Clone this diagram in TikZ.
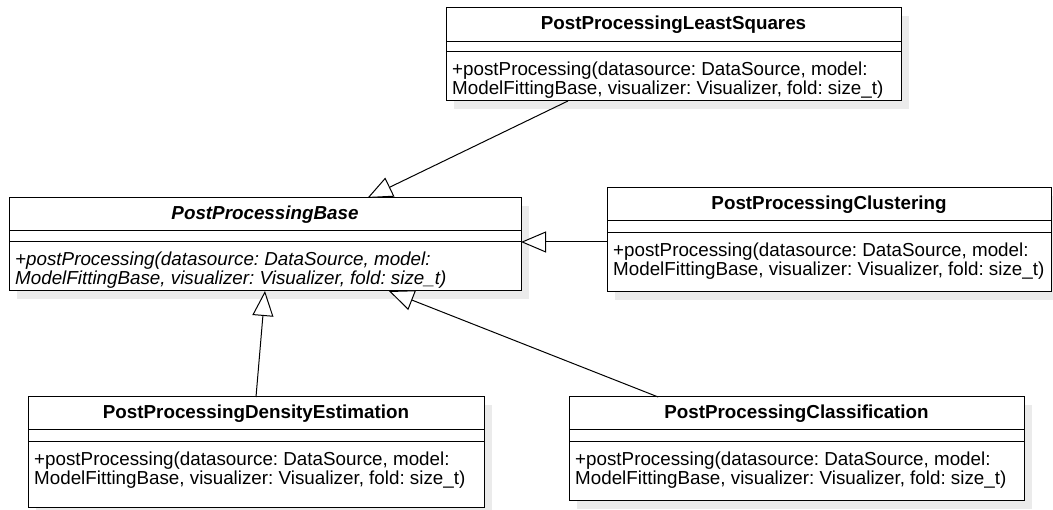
\documentclass[tikz,border=0pt]{standalone}
\usepackage{fontspec}
\setmainfont{Liberation Sans}
\usetikzlibrary{positioning, arrows.meta, calc, shadows}

\frenchspacing
\newcommand{\methodsig}{+postProcessing(datasource: DataSource, model:\\ModelFittingBase, visualizer: Visualizer, fold: size\_t)}

\begin{document}
\begin{tikzpicture}[
    x=1pt, y=-1pt,
    font=\fontsize{18.8}{16}\selectfont,
    box/.style={rectangle, draw, line width=1pt, fill=white, outer sep=0pt, inner sep=0pt,
        drop shadow={shadow xshift=8pt, shadow yshift=-8pt, fill=black!8, opacity=1}},
    head/.style={box, anchor=north west, minimum height=33pt, font=\fontsize{18.8}{16}\selectfont\bfseries},
    attr/.style={box, minimum height=11pt},
    ops/.style={box},
    sig/.style={anchor=north west, align=left, inner xsep=6pt, inner ysep=10pt},
    inherit/.style={-{Triangle[length=25pt, width=21pt, fill=white]}, line width=1pt}
]
\useasboundingbox (0,0) rectangle (1053,510);

% Least squares
\node[head, minimum width=455pt, minimum height=34pt] (ls) at (446,8) {PostProcessingLeastSquares};
\node[attr, minimum width=455pt, minimum height=10pt, below=0pt of ls] (lsa) {};
\node[ops, minimum width=455pt, minimum height=49pt, below=0pt of lsa] (lso) {};
\node[sig] (lst) at (lso.north west) {\methodsig};

% Abstract base class
\node[head, minimum width=512pt, font=\fontsize{18.8}{16}\selectfont\bfseries\itshape] (base) at (9,198) {PostProcessingBase};
\node[attr, minimum width=512pt, below=0pt of base] (basea) {};
\node[ops, minimum width=512pt, minimum height=49pt, below=0pt of basea] (baseo) {};
\node[sig, font=\fontsize{18.8}{16}\selectfont\itshape] (baset) at (baseo.north west) {\methodsig};

% Clustering
\node[head, minimum width=444pt] (clu) at (607,188) {PostProcessingClustering};
\node[attr, minimum width=444pt, minimum height=12pt, below=0pt of clu] (clua) {};
\node[ops, minimum width=444pt, minimum height=59pt, below=0pt of clua] (cluo) {};
\node[sig] (clut) at (cluo.north west) {\methodsig};

% Density estimation
\node[head, minimum width=456pt] (den) at (28,397) {PostProcessingDensityEstimation};
\node[attr, minimum width=456pt, minimum height=12pt, below=0pt of den] (dena) {};
\node[ops, minimum width=456pt, minimum height=66pt, below=0pt of dena] (deno) {};
\node[sig] (dent) at (deno.north west) {\methodsig};

% Classification
\node[head, minimum width=455pt] (cla) at (569,397) {PostProcessingClassification};
\node[attr, minimum width=455pt, minimum height=12pt, below=0pt of cla] (claa) {};
\node[ops, minimum width=455pt, minimum height=59pt, below=0pt of claa] (clao) {};
\node[sig] (clat) at (clao.north west) {\methodsig};

% Generalisation arrows
\draw[inherit] ($(lso.south west)!0.268!(lso.south east)$) -- ($(base.north west)!0.70!(base.north east)$);
\draw[inherit] (cluo.west |- baseo.north) -- (baseo.north east);
\draw[inherit] (den.north) -- (baseo.south);
\draw[inherit] ($(cla.north west)!0.196!(cla.north east)$) -- ($(baseo.south west)!0.742!(baseo.south east)$);
\end{tikzpicture}
\end{document}
